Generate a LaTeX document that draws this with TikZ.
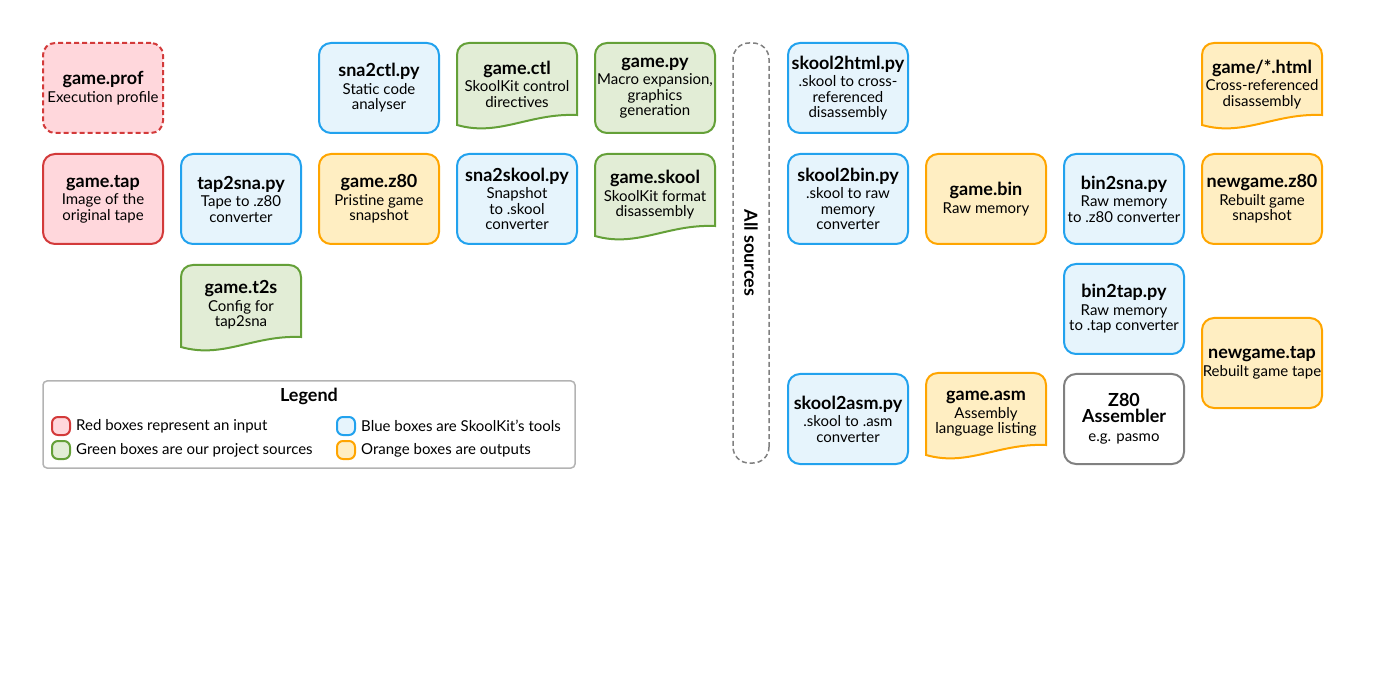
\documentclass[tikz,border=0pt]{standalone}
\usepackage{fontspec}
\setmainfont{Lato}
\usetikzlibrary{calc}
\definecolor{cred}{HTML}{D33A3A}
\definecolor{fred}{HTML}{FFD7DC}
\definecolor{cblue}{HTML}{22A2EE}
\definecolor{fblue}{HTML}{E6F4FC}
\definecolor{cgreen}{HTML}{64A038}
\definecolor{fgreen}{HTML}{E2EDD6}
\definecolor{corange}{HTML}{FFA500}
\definecolor{forange}{HTML}{FFEEC2}
\definecolor{cgrey}{HTML}{808080}
\definecolor{clegend}{HTML}{B3B3B3}
\newcommand\ttl[1]{{\fontsize{18}{17}\selectfont\bfseries #1}}
\newcommand\docshape[3]{%
 \path[#3] ({#1-60},{#2+37}) -- ({#1-60},{#2-33}) .. controls ({#1-60},{#2-40}) and ({#1-55},{#2-45}) .. ({#1-48},{#2-45}) -- ({#1+48},{#2-45}) .. controls ({#1+55},{#2-45}) and ({#1+60},{#2-40}) .. ({#1+60},{#2-33}) -- ({#1+60},{#2+27}) .. controls ({#1+12},{#2+25}) and ({#1-18},{#2+49}) .. ({#1-60},{#2+37}) -- cycle;}
\begin{document}
\begin{tikzpicture}[x=1pt,y=-1pt,
  txt/.style={align=center, font=\fontsize{15}{15.5}\selectfont, inner sep=0pt},
  box/.style={txt, rounded corners=12pt, line width=2pt, minimum width=120pt, minimum height=90pt},
  redbox/.style={box, draw=cred, fill=fred},
  bluebox/.style={box, draw=cblue, fill=fblue},
  greenbox/.style={box, draw=cgreen, fill=fgreen},
  orangebox/.style={box, draw=corange, fill=forange},
  greybox/.style={box, draw=cgrey, fill=white},
  greendoc/.style={fill=fgreen, draw=cgreen, line width=2pt},
  orangedoc/.style={fill=forange, draw=corange, line width=2pt},
  dashedline/.style={dash pattern=on 5pt off 3pt},
  legsq/.style={rounded corners=6pt, line width=2pt, minimum width=18pt, minimum height=18pt, inner sep=0pt},
  legtxt/.style={anchor=west, font=\fontsize{15}{15}\selectfont, inner sep=0pt}
]
\useasboundingbox (0,0) rectangle (1400,700);

% column 1
\node[redbox, dashedline] (prof) at (103,88) {\ttl{game.prof}\\[2pt]Execution profile};
\node[redbox] (tap) at (103,199) {\ttl{game.tap}\\[2pt]Image of the\\original tape};
% column 2
\node[bluebox] (tap2sna) at (241,199) {\ttl{tap2sna.py}\\[2pt]Tape to .z80\\converter};
\docshape{241}{310}{greendoc}
\node[txt] (t2s) at (241,305) {\ttl{game.t2s}\\[2pt]Config for\\tap2sna};
% column 3
\node[bluebox] (sna2ctl) at (379,88) {\ttl{sna2ctl.py}\\[2pt]Static code\\analyser};
\node[orangebox] (z80) at (379,199) {\ttl{game.z80}\\[2pt]Pristine game\\snapshot};
% column 4
\docshape{517}{88}{greendoc}
\node[txt] (ctl) at (517,84) {\ttl{game.ctl}\\[2pt]SkoolKit control\\directives};
\node[bluebox] (sna2skool) at (517,199) {\ttl{sna2skool.py}\\[2pt]Snapshot\\to .skool\\converter};
% column 5
\node[greenbox] (gamepy) at (655,88) {\ttl{game.py}\\[2pt]Macro expansion,\\graphics\\generation};
\docshape{655}{199}{greendoc}
\node[txt] (skool) at (655,195) {\ttl{game.skool}\\[2pt]SkoolKit format\\disassembly};
% all sources
\node[draw=cgrey, dashedline, line width=1.5pt, rounded corners=16pt, minimum width=420pt, minimum height=36pt, rotate=-90, font=\fontsize{18}{18}\selectfont\bfseries, inner sep=0pt] (allsrc) at (751,253) {All sources};
% column 6
\node[bluebox] (skool2html) at (848,88) {\ttl{skool2html.py}\\[2pt].skool to cross-\\referenced\\disassembly};
\node[bluebox] (skool2bin) at (848,199) {\ttl{skool2bin.py}\\[2pt].skool to raw\\memory\\converter};
\node[bluebox] (skool2asm) at (848,419) {\ttl{skool2asm.py}\\[2pt].skool to .asm\\converter};
% column 7
\node[orangebox] (bin) at (986,199) {\ttl{game.bin}\\[2pt]Raw memory};
\docshape{986}{418}{orangedoc}
\node[txt] (asm) at (986,414) {\ttl{game.asm}\\[2pt]Assembly\\language listing};
% column 8
\node[bluebox] (bin2sna) at (1124,199) {\ttl{bin2sna.py}\\[2pt]Raw memory\\to .z80 converter};
\node[bluebox] (bin2tap) at (1124,309) {\ttl{bin2tap.py}\\[2pt]Raw memory\\to .tap converter};
\node[greybox] (asmr) at (1124,419) {\ttl{Z80}\\\ttl{Assembler}\\[4pt]e.g. pasmo};
% column 9
\docshape{1262}{88}{orangedoc}
\node[txt] (html) at (1262,84) {\ttl{game/*.html}\\[2pt]Cross-referenced\\disassembly};
\node[orangebox] (newz80) at (1262,199) {\ttl{newgame.z80}\\[2pt]Rebuilt game\\snapshot};
\node[orangebox] (newtap) at (1262,363) {\ttl{newgame.tap}\\[2pt]Rebuilt game tape};

% legend
\node[draw=clegend, line width=1.5pt, rounded corners=4pt, minimum width=532pt, minimum height=87pt] (legend) at (309,424.5) {};
\node[txt, font=\fontsize{18}{18}\selectfont\bfseries] (legtitle) at (309,396) {Legend};
\node[legsq, draw=cred, fill=fred] (lred) at (61,426) {};
\node[legtxt] (lredt) at (76,426) {Red boxes represent an input};
\node[legsq, draw=cgreen, fill=fgreen] (lgreen) at (61,450) {};
\node[legtxt] (lgreent) at (76,450) {Green boxes are our project sources};
\node[legsq, draw=cblue, fill=fblue] (lblue) at (346,426) {};
\node[legtxt] (lbluet) at (361,426) {Blue boxes are SkoolKit’s tools};
\node[legsq, draw=corange, fill=forange] (lorange) at (346,450) {};
\node[legtxt] (loranget) at (361,450) {Orange boxes are outputs};
\end{tikzpicture}
\end{document}
